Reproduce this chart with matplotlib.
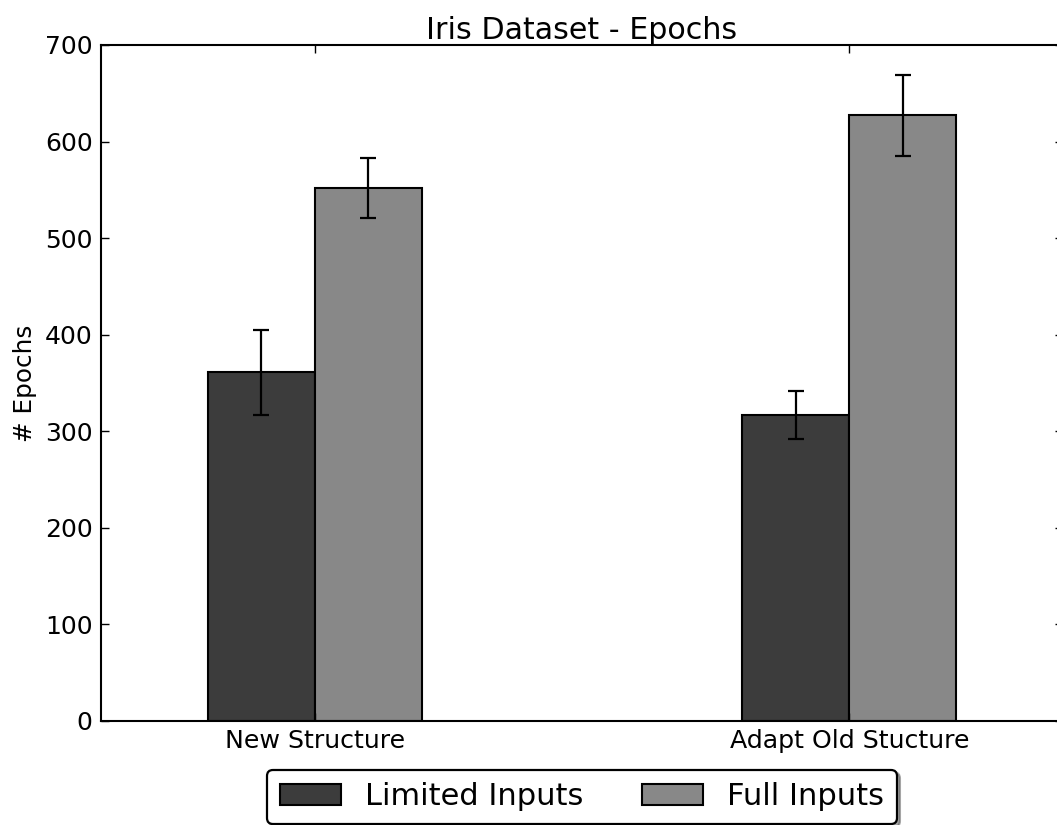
import numpy as np
import matplotlib
matplotlib.use("Agg")
import matplotlib.pyplot as plt

# Data
groups = ["New Structure", "Adapt Old Stucture"]
limited_means = [361, 317]
limited_err = [44, 25]
full_means = [552, 627]
full_err = [31, 42]
series_labels = ["Limited Inputs", "Full Inputs"]

ind = np.arange(len(groups))
width = 0.2

fig = plt.figure(figsize=(10.57, 8.25), dpi=100)
ax = fig.add_axes([0.0956, 0.1261, 0.9101, 0.8194])

err_kw = dict(ecolor="black", elinewidth=1.6, capsize=6, capthick=1.6)
b1 = ax.bar(ind, limited_means, width, yerr=limited_err, align="edge",
            color="#3c3c3c", edgecolor="black", linewidth=1.5,
            error_kw=err_kw, label=series_labels[0])
b2 = ax.bar(ind + width, full_means, width, yerr=full_err, align="edge",
            color="#888888", edgecolor="black", linewidth=1.5,
            error_kw=err_kw, label=series_labels[1])

ax.set_xlim(-0.2, 1.6)
ax.set_ylim(0, 700)
ax.set_xticks(ind + width)
ax.set_xticklabels(groups, fontsize=18.2)
ax.set_yticks(np.arange(0, 701, 100))
ax.tick_params(axis="y", labelsize=18)
ax.tick_params(direction="in", length=6, width=1, top=True, right=True, pad=6)
for s in ax.spines.values():
    s.set_linewidth(1.5)

ax.set_ylabel("# Epochs", fontsize=17.8, labelpad=6)
ax.set_title("Iris Dataset - Epochs", fontsize=21.7, pad=4)

leg = ax.legend(loc="upper center", bbox_to_anchor=(0.5, -0.072), ncol=2,
                fontsize=22, shadow=True, fancybox=True, framealpha=1,
                edgecolor="black", columnspacing=1.9, borderpad=0.42,
                handletextpad=0.8, borderaxespad=0)
leg.get_frame().set_linewidth(1.6)

fig.savefig("out.png", dpi=100)
